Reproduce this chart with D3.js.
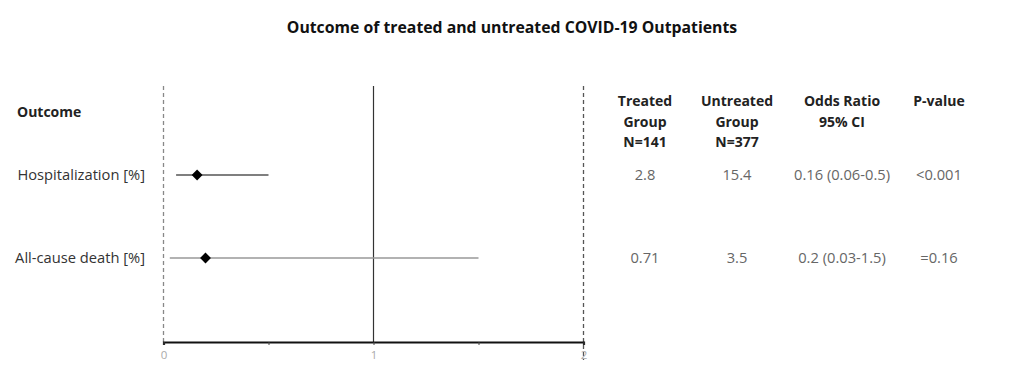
<!DOCTYPE html>
<html>
<head>
<meta charset="utf-8">
<script src="https://cdn.jsdelivr.net/npm/d3@7"></script>
<style>
  html, body { margin: 0; padding: 0; background: #fff; }
  svg { display: block; }
  text { font-family: "Open Sans", Lato, sans-serif; }
</style>
</head>
<body>
<svg id="chart" width="1016" height="379"></svg>
<script>
// Forest plot: odds ratios for treated vs untreated COVID-19 outpatients
const outcomes = ["Hospitalization [%]", "All-cause death [%]"];
const oddsRatio = [0.16, 0.2];
const ciLow = [0.06, 0.03];
const ciHigh = [0.5, 1.5];
const treatedPct = ["2.8", "0.71"];
const untreatedPct = ["15.4", "3.5"];
const pValues = ["<0.001", "=0.16"];
const tickValues = [0, 0.5, 1, 1.5, 2];
const tickLabels = ["0", "", "1", "", "2"];
const headers = [
  ["Treated", "Group", "N=141"],
  ["Untreated", "Group", "N=377"],
  ["Odds Ratio", "95% CI"],
  ["P-value"]
];

const svg = d3.select("#chart");

const x = d3.scaleLinear().domain([0, 2]).range([163.5, 583.5]);
const y = d3.scalePoint().domain(outcomes).range([175, 258]);

const plotTop = 86, axisY = 342;
const bodySize = 14.7, boldSize = 14;

// Title
svg.append("text")
  .attr("x", 512).attr("y", 33)
  .attr("text-anchor", "middle")
  .attr("font-size", 15.8).attr("font-weight", 700).attr("fill", "#111")
  .text("Outcome of treated and untreated COVID-19 Outpatients");

// Column header for outcomes
svg.append("text")
  .attr("x", 17).attr("y", 117)
  .attr("font-size", boldSize).attr("font-weight", 700).attr("fill", "#222")
  .text("Outcome");

// Outcome labels
svg.selectAll("text.label").data(outcomes).join("text")
  .attr("class", "label")
  .attr("x", 145).attr("y", d => y(d) + 5)
  .attr("text-anchor", "end")
  .attr("font-size", bodySize).attr("fill", "#333")
  .text(d => d);

// Reference lines: dashed at 0 and 2, solid at 1 (no effect)
svg.append("line")
  .attr("x1", x(0)).attr("x2", x(0))
  .attr("y1", plotTop).attr("y2", axisY)
  .attr("stroke", "#888").attr("stroke-width", 1.3).attr("stroke-dasharray", "4,3");
svg.append("line")
  .attr("x1", x(2)).attr("x2", x(2))
  .attr("y1", plotTop).attr("y2", 360)
  .attr("stroke", "#555").attr("stroke-width", 1.3).attr("stroke-dasharray", "4,3");
svg.append("line")
  .attr("x1", x(1)).attr("x2", x(1))
  .attr("y1", plotTop).attr("y2", axisY)
  .attr("stroke", "#333").attr("stroke-width", 1.2);

// X axis
const axis = d3.axisBottom(x)
  .tickValues(tickValues)
  .tickFormat((d, i) => tickLabels[i])
  .tickSize(3).tickPadding(6);
const gAxis = svg.append("g").attr("transform", `translate(0,${axisY})`).call(axis);
gAxis.select(".domain").attr("stroke", "#111").attr("stroke-width", 2.2);
gAxis.selectAll(".tick line").attr("stroke", "#444");
gAxis.selectAll(".tick text")
  .attr("font-family", "'Open Sans', sans-serif").attr("font-size", 11.5).attr("fill", "#aaa");

// Confidence interval lines
const ciColors = ["#555", "#999"];
svg.selectAll("line.ci").data(outcomes).join("line")
  .attr("class", "ci")
  .attr("x1", (d, i) => x(ciLow[i])).attr("x2", (d, i) => x(ciHigh[i]))
  .attr("y1", d => y(d)).attr("y2", d => y(d))
  .attr("stroke", (d, i) => ciColors[i]).attr("stroke-width", 1.5);

// Point estimates (diamonds)
svg.selectAll("path.est").data(outcomes).join("path")
  .attr("class", "est")
  .attr("transform", (d, i) => `translate(${x(oddsRatio[i])},${y(d)})`)
  .attr("d", d3.symbol().type(d3.symbolDiamond2).size(75))
  .attr("fill", "#000");

// Table headers
const colX = [645, 737, 842, 939];
headers.forEach((lines, c) => {
  lines.forEach((t, j) => {
    svg.append("text")
      .attr("x", colX[c]).attr("y", 106 + j * 20.5)
      .attr("text-anchor", "middle")
      .attr("font-size", boldSize).attr("font-weight", 700).attr("fill", "#222")
      .text(t);
  });
});

// Table values
const cols = [
  treatedPct,
  untreatedPct,
  oddsRatio.map((v, i) => `${v} (${ciLow[i]}-${ciHigh[i]})`),
  pValues
];
cols.forEach((vals, c) => {
  svg.selectAll(null).data(outcomes).join("text")
    .attr("x", colX[c]).attr("y", d => y(d) + 5)
    .attr("text-anchor", "middle")
    .attr("font-size", bodySize).attr("fill", "#666")
    .text((d, i) => vals[i]);
});
</script>
</body>
</html>
